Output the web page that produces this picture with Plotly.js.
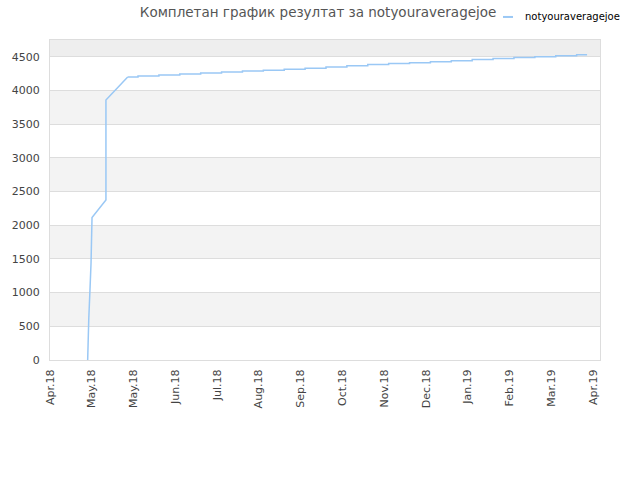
<!DOCTYPE html>
<html>
<head>
<meta charset="utf-8">
<script src="https://cdn.plot.ly/plotly-3.0.1.min.js"></script>
<style>html,body{margin:0;padding:0;background:#fff;}#chart{width:640px;height:480px;}</style>
</head>
<body>
<div id="chart"></div>
<script>
// Early climb (linear segments)
const climbDates = ['2018-04-30 06:00','2018-04-30 12:00','2018-05-01 00:00','2018-05-01 18:00','2018-05-02 12:00','2018-05-03 04:00','2018-05-12 12:00','2018-05-12 12:00','2018-05-12 12:00','2018-05-12 12:00','2018-05-12 12:00','2018-05-12 12:00','2018-05-27 02:00'];
const climbScores = [0, 346, 618, 1014, 1434, 2115, 2374, 2626, 2893, 3190, 3521, 3858, 4199];
// Later bi-weekly steps
const stepDates = ['2018-05-27 02:00','2018-06-03','2018-06-17','2018-07-01','2018-07-15','2018-07-29','2018-08-12','2018-08-26','2018-09-09','2018-09-23','2018-10-07','2018-10-21','2018-11-04','2018-11-18','2018-12-02','2018-12-16','2018-12-30','2019-01-13','2019-01-27','2019-02-10','2019-02-24','2019-03-10','2019-03-24','2019-03-31'];
const stepScores = [4199, 4214, 4228, 4243, 4258, 4273, 4288, 4300, 4314, 4329, 4345, 4365, 4382, 4397, 4411, 4426, 4441, 4456, 4473, 4486, 4500, 4515, 4530, 4530];
// Axis ticks
const tickDates = ['2018-04-05','2018-05-03','2018-05-31','2018-06-28','2018-07-26','2018-08-23','2018-09-20','2018-10-18','2018-11-15','2018-12-13','2019-01-10','2019-02-07','2019-03-07','2019-04-04'];
const tickLabels = ['Apr.18','May.18','May.18','Jun.18','Jul.18','Aug.18','Sep.18','Oct.18','Nov.18','Dec.18','Jan.19','Feb.19','Mar.19','Apr.19'];
const yTicks = [0, 500, 1000, 1500, 2000, 2500, 3000, 3500, 4000, 4500];
const playerName = 'notyouraveragejoe';
const titleText = 'Комплетан график резултат за notyouraveragejoe';

const lineColor = '#9ac8f5';
const yMax = 4747;

const shapes = [];
[[500,1000],[1500,2000],[2500,3000],[3500,4000]].forEach(b => {
  shapes.push({type:'rect', xref:'paper', yref:'y', x0:0, x1:1, y0:b[0], y1:b[1], fillcolor:'#f3f3f3', line:{width:0}, layer:'below'});
});
shapes.push({type:'rect', xref:'paper', yref:'y', x0:0, x1:1, y0:4500, y1:yMax, fillcolor:'#eeeeee', line:{width:0}, layer:'below'});
// legend swatch
shapes.push({type:'line', xref:'paper', yref:'paper', x0:0.8236, x1:0.8418, y0:1.072, y1:1.072, line:{color:lineColor, width:2}});

const traces = [
  {x: climbDates, y: climbScores, type:'scatter', mode:'lines', name: playerName, line:{color:lineColor, width:1.5}, showlegend:false},
  {x: stepDates, y: stepScores, type:'scatter', mode:'lines', name: playerName, line:{color:lineColor, width:1.5, shape:'hv'}, showlegend:false}
];

const layout = {
  width:640, height:480,
  margin:{l:50, r:40, t:40, b:120},
  paper_bgcolor:'#fff', plot_bgcolor:'#fff',
  font:{family:'DejaVu Sans, sans-serif', size:11, color:'#444'},
  title:{text:titleText, x:0.497, xref:'container', xanchor:'center', y:0.975, yref:'container', yanchor:'middle', font:{size:13.5, color:'#555', family:'DejaVu Sans, sans-serif'}},
  showlegend:false,
  xaxis:{type:'date', range:['2018-04-05','2019-04-08 16:00'], tickmode:'array', tickvals:tickDates, ticktext:tickLabels, tickangle:-90, showgrid:false, zeroline:false, showline:true, mirror:true, linecolor:'#dddddd', linewidth:1, ticks:'outside', ticklen:4, tickcolor:'rgba(0,0,0,0)', tickfont:{size:11, color:'#444'}},
  yaxis:{range:[0, yMax], tickmode:'array', tickvals:yTicks, showgrid:true, gridcolor:'#dddddd', gridwidth:1, zeroline:false, showline:true, mirror:true, linecolor:'#dddddd', linewidth:1, ticks:'outside', ticklen:7, tickcolor:'rgba(0,0,0,0)', tickfont:{size:11, color:'#444'}},
  shapes: shapes,
  annotations:[{text:playerName, xref:'paper', yref:'paper', x:0.86, y:1.072, xanchor:'left', yanchor:'middle', showarrow:false, font:{size:10, color:'#000', family:'DejaVu Sans, sans-serif'}}]
};

Plotly.newPlot('chart', traces, layout, {displayModeBar:false, staticPlot:true});
</script>
</body>
</html>
